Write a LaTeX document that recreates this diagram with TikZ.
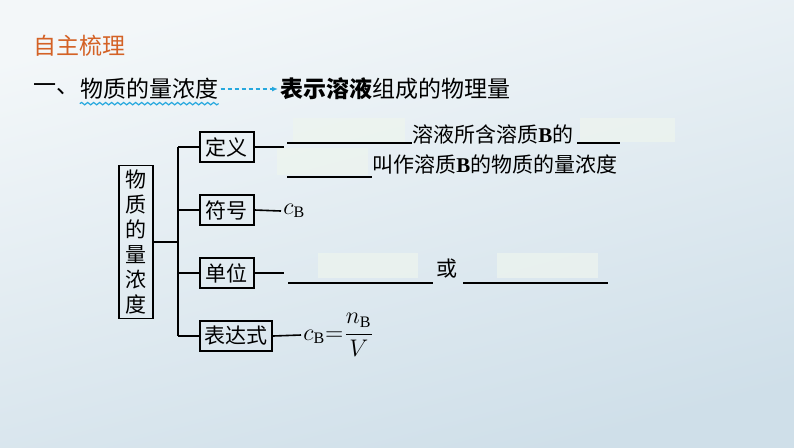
\documentclass[tikz,border=0pt]{standalone}
\usepackage{fontspec}
\setmainfont{Liberation Serif}
\newfontfamily\cjk{Noto Sans CJK SC}
\usetikzlibrary{arrows.meta, positioning, decorations.pathmorphing}
\definecolor{titleorange}{RGB}{212,98,38}
\definecolor{linkcyan}{RGB}{38,168,222}
\definecolor{bgtop}{RGB}{243,247,249}
\definecolor{bgbottom}{RGB}{207,223,233}
\definecolor{hidefill}{RGB}{238,245,238}
\newcommand{\solB}{{\rmfamily\bfseries B}}
\tikzset{
    headtext/.style={
        inner sep=0pt,
        font=\cjk\fontsize{11.5}{13}\selectfont
    },
    mapbox/.style={
        rectangle,
        draw=black,
        line width=0.9pt,
        inner sep=1pt,
        minimum width=27pt,
        minimum height=15pt,
        anchor=west,
        font=\cjk\fontsize{10.5}{12.5}\selectfont
    },
    maptext/.style={
        inner sep=0pt,
        anchor=west,
        font=\cjk\fontsize{10.5}{12.5}\selectfont
    },
    mathtext/.style={
        inner sep=1pt,
        anchor=west,
        font=\fontsize{12}{14}\selectfont
    },
    mapline/.style={
        line width=0.8pt
    },
    blankline/.style={
        line width=0.7pt
    },
    hidebox/.style={
        fill=hidefill,
        fill opacity=0.7,
        draw=none
    }
}

\begin{document}
\begin{tikzpicture}[x=0.5pt, y=-0.5pt]
    \useasboundingbox (0,0) rectangle (794,447);
    \shade[top color=bgtop, bottom color=bgbottom, shading angle=15] (0,0) rectangle (794,447);

    % heading
    \node[headtext, anchor=west, text=titleorange] (title) at (33,46) {自主梳理};
    \node[headtext, anchor=west] (sec) at (33,89) {一、};
    \node[headtext, right=0pt of sec] (topic) {物质的量浓度};
    \node[headtext, anchor=west] (meaning) at (280,89) {{\bfseries 表示溶液}组成的物理量};
    \draw[linkcyan, line width=0.6pt, decorate, decoration={snake, amplitude=0.6pt, segment length=3pt}]
        ([yshift=-1.8pt]topic.south west) -- ([yshift=-1.8pt]topic.south east);
    \draw[linkcyan, line width=0.6pt, dash pattern=on 2pt off 1.5pt, -{Latex[length=3pt, width=2.5pt]}]
        ([xshift=1pt]topic.east) -- ([xshift=-1pt]meaning.west);

    % answer areas
    \fill[hidebox] (293,118) rectangle (405,142);
    \fill[hidebox] (580,118) rectangle (675,142);
    \fill[hidebox] (277,148) rectangle (368,175);
    \fill[hidebox] (318,253) rectangle (418,278);
    \fill[hidebox] (497,253) rectangle (598,278);

    % concept map
    \node[mapbox, anchor=center, align=center, minimum width=17pt, minimum height=76.5pt, inner sep=0pt]
        (root) at (136,242) {物\\质\\的\\量\\浓\\度};
    \node[mapbox] (def) at (199,147) {定义};
    \node[mapbox] (sym) at (199,210) {符号};
    \node[mapbox] (unit) at (199,273) {单位};
    \node[mapbox, minimum width=36pt] (expr) at (199,336) {表达式};
    \coordinate (trunk) at (178,242);

    \draw[mapline] (root.east) -- (trunk);
    \draw[mapline] (def.west -| trunk) -- (expr.west -| trunk);
    \foreach \b in {def, sym, unit, expr}
        \draw[mapline] (\b.west -| trunk) -- (\b.west);

    % definition
    \coordinate (defend) at (284,147);
    \draw[mapline] (def.east) -- (defend);
    \draw[blankline] (287,143) -- (412,143);
    \node[maptext] (defa) at (412,134) {溶液所含溶质\solB 的};
    \draw[blankline] (577,143) -- (620,143);
    \draw[blankline] (287,177) -- (372,177);
    \node[maptext] (defb) at (372,164) {叫作溶质\solB 的物质的量浓度};

    % symbol
    \node[mathtext] (symval) at (281,211) {$c_{\mathrm{B}}$};
    \draw[mapline] (sym.east) -- (symval.west);

    % unit
    \coordinate (unitend) at (284,273);
    \draw[mapline] (unit.east) -- (unitend);
    \draw[blankline] (288,283) -- (433,283);
    \node[maptext, anchor=center] (unitor) at (447,269) {或};
    \draw[blankline] (463,283) -- (608,283);

    % expression
    \node[mathtext] (exprval) at (301,335) {$c_{\mathrm{B}}{=}\displaystyle\frac{n_{\mathrm{B}}}{V}$};
    \draw[mapline] (expr.east) -- (exprval.west);
\end{tikzpicture}
\end{document}
